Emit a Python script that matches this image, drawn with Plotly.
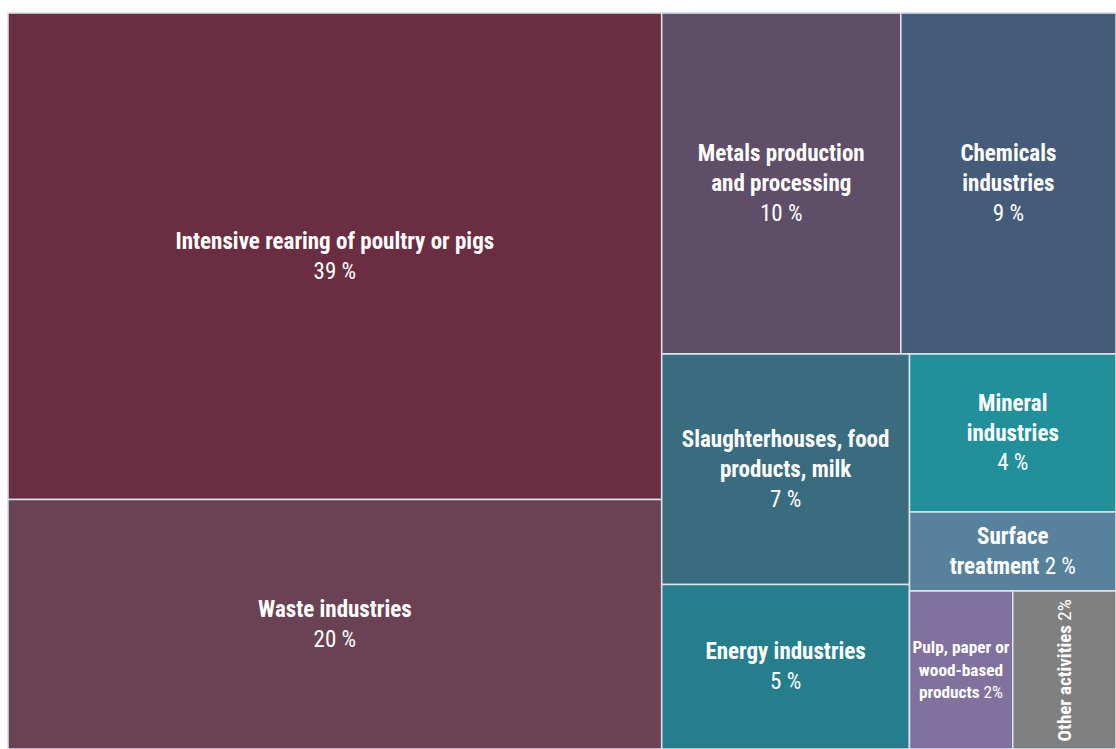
import plotly.graph_objects as go

# Share of facilities by sector (percent)
sectors = [
    "Intensive rearing of poultry or pigs",
    "Waste industries",
    "Metals production and processing",
    "Chemicals industries",
    "Slaughterhouses, food products, milk",
    "Energy industries",
    "Mineral industries",
    "Surface treatment",
    "Pulp, paper or wood-based products",
    "Other activities",
]
shares = [39, 20, 10, 9, 7, 5, 4, 2, 2, 2]
colors = ["#6b2d42", "#6a4254", "#5e4e68", "#445c7a", "#3a6c80",
          "#267e8c", "#21909b", "#58829c", "#80719e", "#808080"]

# Cell captions (bold name, regular share)
captions = [
    "<b>Intensive rearing of poultry or pigs</b><br>39 %",
    "<b>Waste industries</b><br>20 %",
    "<b>Metals production<br>and processing</b><br>10 %",
    "<b>Chemicals<br>industries</b><br>9 %",
    "<b>Slaughterhouses, food<br>products, milk</b><br>7 %",
    "<b>Energy industries</b><br>5 %",
    "<b>Mineral<br>industries</b><br>4 %",
    "<b>Surface<br>treatment</b> 2 %",
    "<b>Pulp, paper or<br>wood-based<br>products</b> 2%",
    "",
]

FONT = "Roboto Condensed, Liberation Sans Narrow, DejaVu Sans Condensed, Roboto, sans-serif"

# Grouping used for the slice-and-dice nesting
groups = {
    "root": ["g_left", "g_right"],
    "g_left": [sectors[0], sectors[1]],
    "g_right": ["g_top", "g_bottom"],
    "g_top": [sectors[2], sectors[3]],
    "g_bottom": ["g_col1", "g_col2"],
    "g_col1": [sectors[4], sectors[5]],
    "g_col2": [sectors[6], sectors[7], "g_small"],
    "g_small": [sectors[8], sectors[9]],
}

leaf_value = dict(zip(sectors, shares))
leaf_color = dict(zip(sectors, colors))
leaf_text = dict(zip(sectors, captions))


def total(node):
    if node in leaf_value:
        return leaf_value[node]
    return sum(total(c) for c in groups[node])


ids, parents, values, texts, fills = [], [], [], [], []


def walk(node, parent):
    ids.append(node)
    parents.append(parent)
    values.append(total(node))
    texts.append(leaf_text.get(node, ""))
    fills.append(leaf_color.get(node, "#ffffff"))
    for c in groups.get(node, []):
        walk(c, node)


walk("root", "")


def locate(target, node="root", box=(0.0, 0.0, 1.0, 1.0), depth=0):
    """Slice-dice rectangle (x0, y0_from_top, x1, y1_from_top) of a node."""
    if node == target:
        return box
    kids = groups.get(node, [])
    x0, y0, x1, y1 = box
    s = total(node)
    pos = 0.0
    for k in kids:
        f0, f1 = pos / s, (pos + total(k)) / s
        pos += total(k)
        if depth % 2 == 0:
            sub = (x0 + (x1 - x0) * f0, y0, x0 + (x1 - x0) * f1, y1)
        else:
            sub = (x0, y0 + (y1 - y0) * f0, x1, y0 + (y1 - y0) * f1)
        r = locate(target, k, sub, depth + 1)
        if r:
            return r
    return None


fig = go.Figure(go.Treemap(
    ids=ids,
    labels=[i if i in leaf_value else "" for i in ids],
    parents=parents,
    values=values,
    text=texts,
    branchvalues="total",
    sort=False,
    texttemplate="%{text}",
    textposition="middle center",
    textfont=dict(family=FONT, size=23, color="white"),
    marker=dict(colors=fills, line=dict(width=1.5, color="#dde4ea"),
                pad=dict(t=0, l=0, r=0, b=0)),
    tiling=dict(packing="slice-dice", pad=0),
    pathbar=dict(visible=False),
    root=dict(color="white"),
    hoverinfo="label+value",
    domain=dict(x=[0, 1], y=[0, 1]),
))

# Vertical caption for the narrow last cell
ox0, oy0, ox1, oy1 = locate(sectors[9])
fig.add_annotation(
    x=(ox0 + ox1) / 2, y=1 - (oy0 + oy1) / 2, xref="paper", yref="paper",
    xanchor="center", yanchor="middle",
    text="<b>Other activities</b> 2%", textangle=-90, showarrow=False,
    font=dict(family=FONT, size=19, color="white"),
)

fig.update_layout(
    width=1116, height=749,
    margin=dict(l=8, r=0, t=13, b=0),
    paper_bgcolor="white",
)

fig.write_html("out.html")
